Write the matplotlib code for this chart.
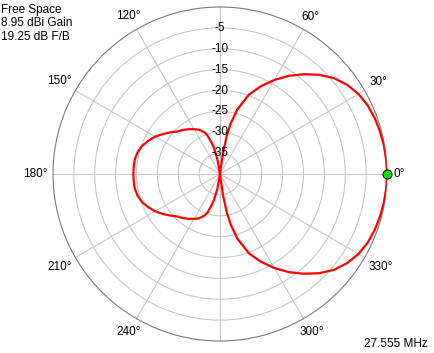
import numpy as np
import matplotlib
matplotlib.use('Agg')
import matplotlib.pyplot as plt

plt.rcParams['font.family'] = ['Liberation Sans', 'DejaVu Sans']
plt.rcParams['font.size'] = 8.5

# azimuth pattern, upper half (pattern is symmetric about 0/180 deg)
angle_deg = [0, 5, 10, 15, 20, 25, 30, 35, 40, 45, 50, 55, 60, 65, 70, 75, 78,
             80, 82, 84, 90, 96, 100, 103, 105, 108, 110, 115, 120, 125, 130,
             135, 140, 145, 150, 155, 160, 165, 170, 175, 180]
gain_db = [0.0, -0.05, -0.15, -0.35, -0.6, -1.0, -1.7, -2.8, -4.3, -6.4, -8.8,
           -11.3, -14.0, -16.8, -19.8, -24.0, -27.6, -30.6, -35.0, -40.5, -50.0,
           -40.5, -36.5, -33.6, -32.3, -30.3, -29.5, -28.3, -27.6, -26.9, -26.2,
           -25.6, -24.5, -23.3, -22.1, -21.1, -20.2, -19.6, -19.3, -19.26, -19.25]

ring_db = [-35, -30, -25, -20, -15, -10, -5]
spoke_deg = [0, 30, 60, 90, 120, 150, 180, 210, 240, 270, 300, 330]
spoke_labels = ['0°', '30°', '60°', '', '120°', '150°', '180°', '210°', '240°', '', '300°', '330°']

info_lines = ['Free Space', '8.95 dBi Gain', '19.25 dB F/B']
freq_label = '27.555 MHz'

db_range = 40.0

# full pattern: mirror the upper half
ang = np.array(angle_deg, dtype=float)
g = np.array(gain_db)
ang_full = np.concatenate([ang, 360 - ang[::-1][1:]])
g_full = np.concatenate([g, g[::-1][1:]])
r_full = np.clip(g_full + db_range, 0, None)

fig = plt.figure(figsize=(4.35, 3.53), dpi=100)
R = 167  # px, outer ring
ax = fig.add_axes([(220 - R) / 435, (353 - 174 - R) / 353, 2 * R / 435, 2 * R / 353],
                  projection='polar')

ax.set_ylim(0, db_range)
ax.set_yticks([d + db_range for d in ring_db])
ax.set_yticklabels([])
ax.set_xticks(np.radians(spoke_deg))
ax.set_xticklabels([])
ax.tick_params(length=0)
ax.grid(True, color='#c4c4c4', lw=0.75, ls='-')
ax.spines['polar'].set_color('#7a7a7a')
ax.spines['polar'].set_linewidth(0.8)

ax.plot(np.radians(ang_full), r_full, color='#ff0000', lw=1.6, zorder=3)
ax.plot(np.radians([angle_deg[0]]), [gain_db[0] + db_range], 'o', color='#00e000',
        mec='black', mew=0.7, ms=6.5, zorder=4, clip_on=False)

# radial (dB) labels along the 90 deg spoke
for d in ring_db:
    ax.text(np.pi / 2, d + db_range, str(d), ha='center', va='center', zorder=5)

# angle labels outside the ring
for a, lab in zip(spoke_deg, spoke_labels):
    if not lab:
        continue
    t = np.radians(a)
    half = abs(np.cos(t)) * len(lab) * 3.0 + abs(np.sin(t)) * 4.5
    r_px = R + 6 + half
    ax.text(t, db_range * r_px / R, lab, ha='center', va='center', clip_on=False)

for i, line in enumerate(info_lines):
    fig.text(1 / 435, 1 - (10 + i * 13.5) / 353, line, ha='left', va='center')
fig.text(428 / 435, 1 - 344 / 353, freq_label, ha='right', va='center')

fig.savefig('out.png', dpi=100)
